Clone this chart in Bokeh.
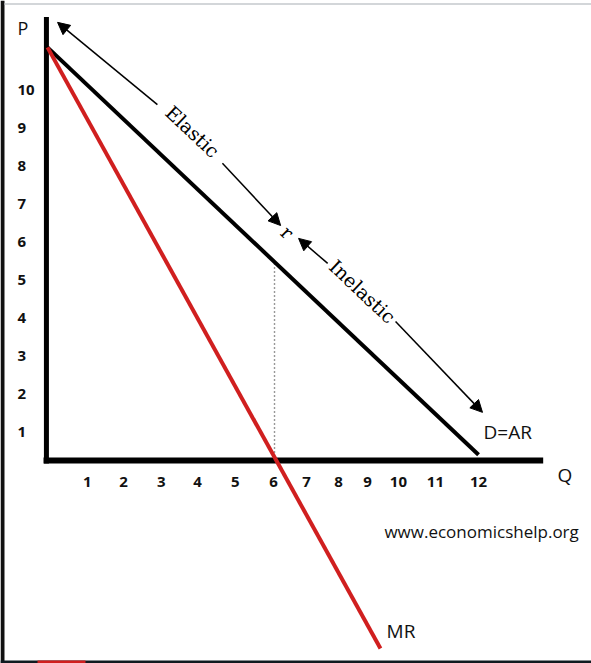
import math
from bokeh.plotting import figure
from bokeh.models import Arrow, NormalHead, Range1d
from bokeh.core.properties import value
from bokeh.embed import file_html
from bokeh.resources import INLINE

# ---- data ----
demand_q = [0.0, 12.0]
demand_p = [10.9, 0.15]
mr_q = [0.0, 9.27]
mr_p = [10.9, -4.96]

q_mr_zero = 6.32          # where MR meets the Q axis
p_demand_there = 5.24     # demand price above that point

q_axis_end = 13.8
p_axis_top = 11.7

q_tick_labels = ["1", "2", "3", "4", "5", "6", "7", "8", "9", "10", "11", "12"]
q_label_at = [1.11, 2.12, 3.17, 4.18, 5.23, 6.29, 7.21, 8.10, 8.91, 9.77, 10.80, 12.0]
p_tick_labels = ["1", "2", "3", "4", "5", "6", "7", "8", "9", "10"]
p_label_at = [1, 2, 3, 4, 5, 6, 7, 8, 9, 10]

# elasticity arrows: (tail q, tail p, tip q, tip p)
arrows = [
    (3.06, 9.39, 0.28, 11.56),
    (4.87, 7.84, 6.49, 6.20),
    (7.80, 5.20, 6.99, 5.86),
    (9.69, 3.67, 12.11, 1.27),
]

W, H = 591, 663
Q0, Q1 = -1.3085, 15.145
P0, P1 = -5.356, 12.137
p = figure(width=W, height=H, output_backend="svg", toolbar_location=None,
           x_range=Range1d(Q0, Q1), y_range=Range1d(P0, P1),
           min_border=0, outline_line_color=None)
p.axis.visible = False
p.grid.visible = False
p.background_fill_color = "white"
p.border_fill_color = "white"

RED = "#d01f1f"

# screenshot frame edges
p.segment(x0=[-1.253], y0=[P0], x1=[-1.253], y1=[P1], line_color="#111111", line_width=4)
p.segment(x0=[-1.20], y0=[12.045], x1=[Q1], y1=[12.045], line_color="#c4c8cc", line_width=1.5)
p.segment(x0=[Q0], y0=[-5.317], x1=[Q1], y1=[-5.317], line_color="#0f1a20", line_width=3)
p.segment(x0=[-0.278], y0=[-5.317], x1=[1.058], y1=[-5.317], line_color=RED, line_width=3)

# axes lines
p.segment(x0=[-0.03], y0=[-0.08], x1=[-0.03], y1=[p_axis_top], line_color="black", line_width=5)
p.segment(x0=[-0.11], y0=[0.0], x1=[q_axis_end], y1=[0.0], line_color="black", line_width=6)

# dotted guide
p.segment(x0=[q_mr_zero], y0=[0.0], x1=[q_mr_zero], y1=[p_demand_there],
          line_color="#333333", line_width=1.4, line_dash="1 3")

# demand and MR
p.line(demand_q, demand_p, line_color="black", line_width=4)
p.line(mr_q, mr_p, line_color=RED, line_width=4)

# arrows
for (x0, y0, x1, y1) in arrows:
    p.add_layout(Arrow(x_start=x0, y_start=y0, x_end=x1, y_end=y1,
                       line_color="black", line_width=1.5,
                       end=NormalHead(size=12, fill_color="black", line_color="black")))

ang = -math.atan2(10.75 * 37.9, 12 * 35.92)

serif = value("DejaVu Serif")
p.text(x=[4.04], y=[8.68], text=["Elastic"], angle=ang, text_font=serif,
       text_font_size="19px", text_align="center", text_baseline="middle", text_color="black")
p.text(x=[8.77], y=[4.46], text=["Inelastic"], angle=ang, text_font=serif,
       text_font_size="19px", text_align="center", text_baseline="middle", text_color="black")
p.text(x=[6.68], y=[6.02], text=["r"], angle=ang, text_font=serif,
       text_font_size="19px", text_align="center", text_baseline="middle", text_color="black")

sans = value("Open Sans")
# tick labels
p.text(x=q_label_at, y=[-0.554] * len(q_label_at), text=q_tick_labels, text_font=sans,
       text_font_size="15px", text_font_style="bold", text_align="center",
       text_baseline="middle", text_color="#111111")
p.text(x=[-0.835] * len(p_label_at), y=p_label_at, text=p_tick_labels, text_font=sans,
       text_font_size="15px", text_font_style="bold", text_align="left",
       text_baseline="middle", y_offset=9, text_color="#111111")

# axis names and labels
p.text(x=[-0.835], y=[11.40], text=["P"], text_font=sans, text_font_size="18px",
       text_align="left", text_baseline="middle", text_color="#111111")
p.text(x=[14.2], y=[-0.37], text=["Q"], text_font=sans, text_font_size="19px",
       text_align="left", text_baseline="middle", text_color="#111111")
p.text(x=[12.14], y=[0.74], text=["D=AR"], text_font=sans, text_font_size="19px",
       text_align="left", text_baseline="middle", text_color="#111111")
p.text(x=[9.44], y=[-4.51], text=["MR"], text_font=sans, text_font_size="19px",
       text_align="left", text_baseline="middle", text_color="#111111")
p.text(x=[9.38], y=[-1.87], text=["www.economicshelp.org"], text_font=sans,
       text_font_size="17px", text_align="left", text_baseline="middle", text_color="#111111")

open("out.html", "w").write(file_html(p, INLINE))
